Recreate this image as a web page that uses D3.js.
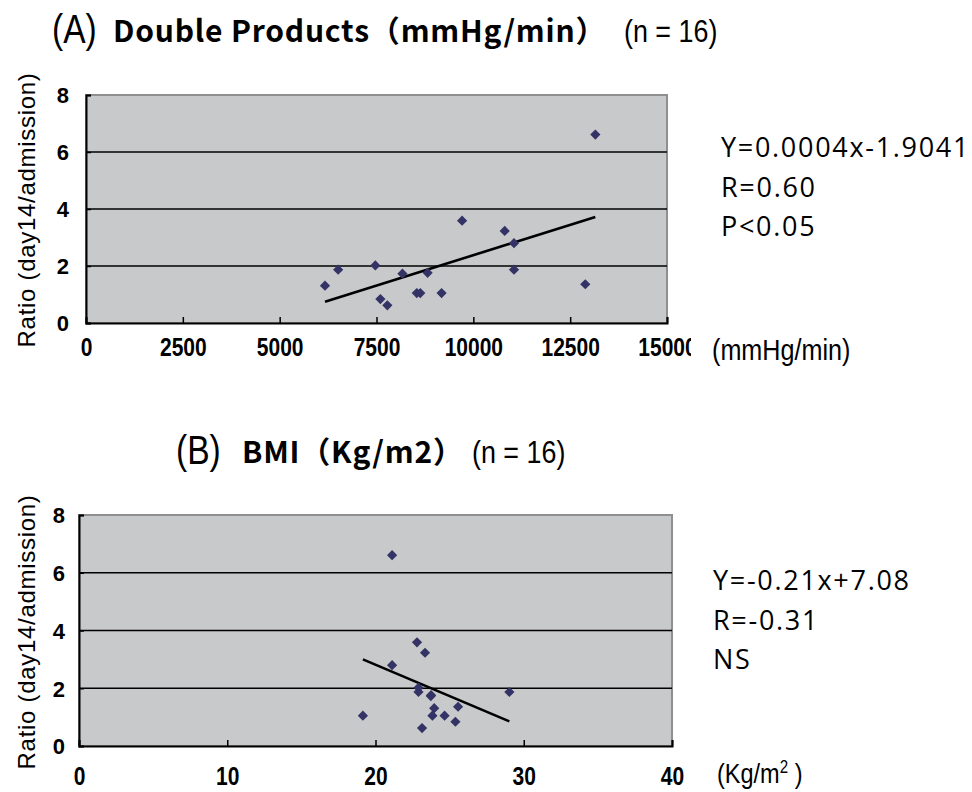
<!DOCTYPE html>
<html>
<head>
<meta charset="utf-8">
<script src="https://cdn.jsdelivr.net/npm/d3@7"></script>
<style>
  html, body { margin: 0; padding: 0; background: #fff; }
  svg { display: block; }
</style>
</head>
<body>
<svg id="chart" width="972" height="792"></svg>
<script>
// Day-14 / admission ratio for each of the 16 patients
const ratio = [1.31, 1.87, 2.02, 0.84, 0.62, 1.73, 1.05, 1.05, 1.76, 1.05, 3.59, 3.23, 2.80, 1.87, 1.36, 6.61];
// Double product (mmHg/min) for the same patients
const doubleProduct = [6170, 6510, 7470, 7600, 7780, 8170, 8540, 8630, 8820, 9180, 9710, 10810, 11050, 11050, 12890, 13150];
// BMI (kg/m2) for the same patients
const bmi = [23.96, 22.90, 22.90, 25.39, 23.14, 23.73, 19.15, 23.84, 23.75, 24.66, 22.80, 23.34, 21.12, 29.03, 25.57, 21.12];

const ratioTicks = [0, 2, 4, 6, 8];
const dpTicks = [0, 2500, 5000, 7500, 10000, 12500, 15000];
const bmiTicks = [0, 10, 20, 30, 40];

const statsA = ["Y=0.0004x-1.9041", "R=0.60", "P<0.05"];
const statsB = ["Y=-0.21x+7.08", "R=-0.31", "NS"];

const svg = d3.select("#chart");
const BOLD = "'Noto Sans CJK JP', 'Liberation Sans', sans-serif";
const SANS = "'Liberation Sans', Arial, sans-serif";
const EQ = "'Open Sans', 'Noto Sans', sans-serif";
const NARROW = 0.84; // horizontal squeeze for the condensed labels

function leastSquares(xs, ys) {
  const mx = d3.mean(xs), my = d3.mean(ys);
  let sxy = 0, sxx = 0;
  xs.forEach((x, i) => { sxy += (x - mx) * (ys[i] - my); sxx += (x - mx) ** 2; });
  const slope = sxy / sxx;
  return { slope, intercept: my - slope * mx };
}

// condensed text: the x position is kept, glyphs are squeezed around it
function narrowText(parent, x, y, size, txt, anchor) {
  return parent.append("text")
    .attr("transform", `translate(${x},${y}) scale(${NARROW},1)`)
    .attr("text-anchor", anchor || "start")
    .attr("font-family", SANS).attr("font-size", size)
    .text(txt);
}

let clipId = 0;
function panel(cfg) {
  const { left, right, top, bottom, xs, xDomain, xTicks } = cfg;
  const x = d3.scaleLinear().domain(xDomain).range([left, right]);
  const y = d3.scaleLinear().domain([0, 8]).range([bottom, top]);
  const g = svg.append("g");

  // plot area
  g.append("rect")
    .attr("x", left).attr("y", top)
    .attr("width", right - left).attr("height", bottom - top)
    .attr("fill", "#c8c9cb")
    .attr("stroke", "#8f8f8f").attr("stroke-width", 2);

  // horizontal gridlines
  g.selectAll("line.grid").data(ratioTicks.filter(t => t > 0 && t < 8)).join("line")
    .attr("class", "grid")
    .attr("x1", left).attr("x2", right)
    .attr("y1", d => y(d)).attr("y2", d => y(d))
    .attr("stroke", "#000").attr("stroke-width", 1.6);

  // y axis
  const yAxis = g.append("g").attr("transform", `translate(${left},0)`)
    .call(d3.axisRight(y).tickValues(ratioTicks).tickSize(5).tickFormat(d3.format("d")));
  yAxis.select(".domain").attr("stroke", "#000").attr("stroke-width", 2);
  yAxis.selectAll(".tick line").attr("stroke", "#000").attr("stroke-width", 1.5);
  yAxis.selectAll(".tick text")
    .attr("x", cfg.yLabelX - left).attr("text-anchor", "end").attr("dy", "0.36em")
    .attr("font-family", SANS).attr("font-weight", "bold").attr("font-size", 22).attr("fill", "#000");

  // x axis (labels clipped at the chart edge)
  const id = "xclip" + (clipId++);
  svg.append("defs").append("clipPath").attr("id", id)
    .append("rect").attr("x", 0).attr("y", 0).attr("width", cfg.labelClip).attr("height", 792);
  const xAxis = g.append("g").attr("clip-path", `url(#${id})`)
    .append("g").attr("transform", `translate(0,${bottom})`)
    .call(d3.axisTop(x).tickValues(xTicks).tickSize(6).tickFormat(d3.format("d")));
  xAxis.select(".domain").attr("stroke", "#000").attr("stroke-width", 2);
  xAxis.selectAll(".tick line").attr("stroke", "#000").attr("stroke-width", 1.5);
  xAxis.selectAll(".tick text")
    .attr("y", 0).attr("dy", 0)
    .attr("transform", `translate(0,${cfg.xLabelY - bottom}) scale(${NARROW},1)`)
    .attr("font-family", SANS).attr("font-weight", "bold").attr("font-size", 25).attr("fill", "#000");

  // regression line
  const fit = leastSquares(xs, ratio);
  const ext = d3.extent(xs);
  g.append("line")
    .attr("x1", x(ext[0])).attr("y1", y(fit.slope * ext[0] + fit.intercept))
    .attr("x2", x(ext[1])).attr("y2", y(fit.slope * ext[1] + fit.intercept))
    .attr("stroke", "#000").attr("stroke-width", 2.6);

  // data points (diamonds)
  g.selectAll("path.pt").data(xs.map((v, i) => [v, ratio[i]])).join("path")
    .attr("class", "pt")
    .attr("d", d3.symbol().type(d3.symbolSquare).size(52))
    .attr("transform", d => `translate(${x(d[0])},${y(d[1])}) rotate(45)`)
    .attr("fill", "#333366");

  // y axis title
  g.append("text")
    .attr("transform", `translate(${cfg.yTitleX},${cfg.yTitleY}) rotate(-90)`)
    .attr("text-anchor", "middle")
    .attr("font-family", SANS).attr("font-size", 24).attr("letter-spacing", 0.7)
    .text("Ratio (day14/admission)");

  // statistics
  g.append("g").selectAll("text").data(cfg.stats).join("text")
    .attr("x", cfg.statX).attr("y", (d, i) => cfg.statY + i * 39.5)
    .attr("font-family", EQ).attr("font-size", 27).attr("letter-spacing", 1.7)
    .text(d => d);

  return g;
}

panel({
  left: 86, right: 667, top: 95, bottom: 323,
  xs: doubleProduct, xDomain: [0, 15000], xTicks: dpTicks,
  yLabelX: 69, xLabelY: 356, yTitleX: 35, yTitleY: 210, labelClip: 691,
  stats: statsA, statX: 721, statY: 157
});

panel({
  left: 79, right: 672, top: 515, bottom: 746,
  xs: bmi, xDomain: [0, 40], xTicks: bmiTicks,
  yLabelX: 65, xLabelY: 785, yTitleX: 35, yTitleY: 632, labelClip: 972,
  stats: statsB, statX: 713, statY: 590
});

// titles
narrowText(svg, 52, 43, 40, "(A)");
svg.append("text").attr("x", 113).attr("y", 42)
  .attr("font-family", BOLD).attr("font-weight", "bold").attr("font-size", 30).attr("letter-spacing", 0.8)
  .text("Double Products（mmHg/min）");
narrowText(svg, 624, 42, 32, "(n = 16)");

narrowText(svg, 176, 464, 40, "(B)");
svg.append("text").attr("x", 242).attr("y", 463)
  .attr("font-family", BOLD).attr("font-weight", "bold").attr("font-size", 30).attr("letter-spacing", 0.8)
  .text("BMI（Kg/m2）");
narrowText(svg, 472, 463, 32, "(n = 16)");

// axis units
narrowText(svg, 712, 360, 30, "(mmHg/min)");
const uB = narrowText(svg, 717, 783, 28, "(Kg/m");
uB.append("tspan").attr("dy", -10).attr("font-size", 18).text("2");
uB.append("tspan").attr("dy", 10).text(" )");
</script>
</body>
</html>
